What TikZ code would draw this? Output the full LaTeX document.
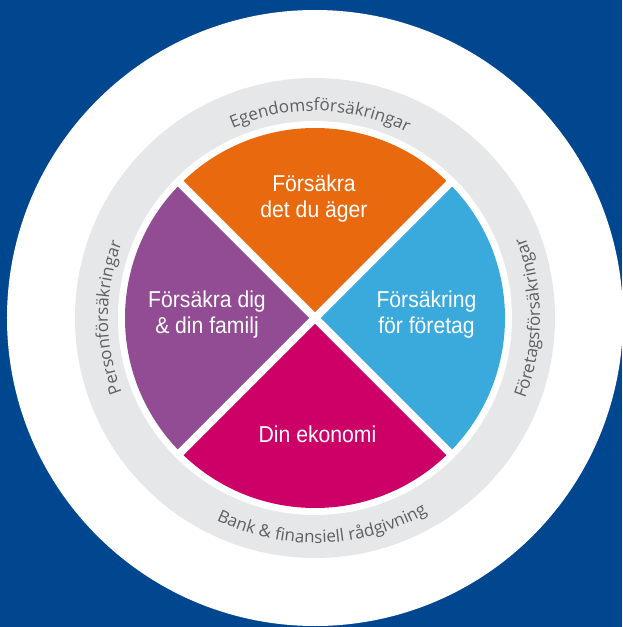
\documentclass[tikz,border=0pt]{standalone}
\usepackage{fontspec}
\usetikzlibrary{decorations.text}
\setmainfont{Liberation Sans}
\newfontfamily\boxfont[FakeStretch=0.92]{Liberation Sans}
\newfontfamily\ringfont{Open Sans}
\definecolor{bgblue}{HTML}{01478F}
\definecolor{ringgray}{HTML}{E6E7E8}
\definecolor{ringtext}{HTML}{5E5F61}
\definecolor{secorange}{HTML}{E8690E}
\definecolor{secpurple}{HTML}{924C93}
\definecolor{secmagenta}{HTML}{CC0066}
\definecolor{secblue}{HTML}{3AA9DC}

\begin{document}
\begin{tikzpicture}[%
    every node/.style={inner sep=0pt},  % text sits right on its point
    ]
% -------------------------------------------------
% Styles for the wheel
\tikzset{
  gap/.style={draw=white, line width=8pt},
  lbl/.style={text=white, align=center,
    font=\boxfont\fontsize{23pt}{26pt}\selectfont},
  ring label/.style={decorate, decoration={text along path, text align=center,
    text={|\ringfont\fontsize{17pt}{20pt}\selectfont\color{ringtext}|#1}}}
}
% -------------------------------------------------
% Background, white disc and grey ring
\useasboundingbox (-315pt,-309pt) rectangle (307pt,318pt);
\clip (-315pt,-309pt) rectangle (307pt,318pt);
\fill[bgblue] (-315pt,-309pt) rectangle (307pt,318pt);
\fill[white] (0,0) circle[radius=308pt];
\fill[ringgray] (0,0) circle[radius=240pt];
\fill[white] (0,0) circle[radius=197pt];

% The four quarters, split by two white bars
\foreach \a/\c in {45/secorange, 135/secpurple, 225/secmagenta, 315/secblue}
  \fill[\c] (0,0) -- (\a:190pt) arc[start angle=\a, delta angle=90, radius=190pt] -- cycle;
\draw[gap] (45:194pt) -- (225:194pt);
\draw[gap] (135:194pt) -- (315:194pt);

% Labels in the quarters
\node[lbl] (own) at (-1pt,119pt) {Försäkra\\det du äger};
\node[lbl] (family) at (-108pt,3.5pt) {Försäkra dig\\\& din familj};
\node[lbl] (business) at (111.5pt,3.5pt) {Försäkring\\för företag};
\node[lbl] (economy) at (2.5pt,-116pt) {Din ekonomi};

% Texts round the ring
\path[ring label={Egendomsförsäkringar}]
  (158.5:207pt) arc[start angle=158.5, end angle=18.5, radius=207pt];
\path[ring label={Personförsäkringar}]
  (245:207pt) arc[start angle=245, end angle=115, radius=207pt];
\path[ring label={Bank {\&} finansiell rådgivning}]
  (202:225pt) arc[start angle=202, end angle=342, radius=225pt];
\path[ring label={Företagsförsäkringar}]
  (-65:225pt) arc[start angle=-65, end angle=65, radius=225pt];
% -------------------------------------------------
\end{tikzpicture}
\end{document}
